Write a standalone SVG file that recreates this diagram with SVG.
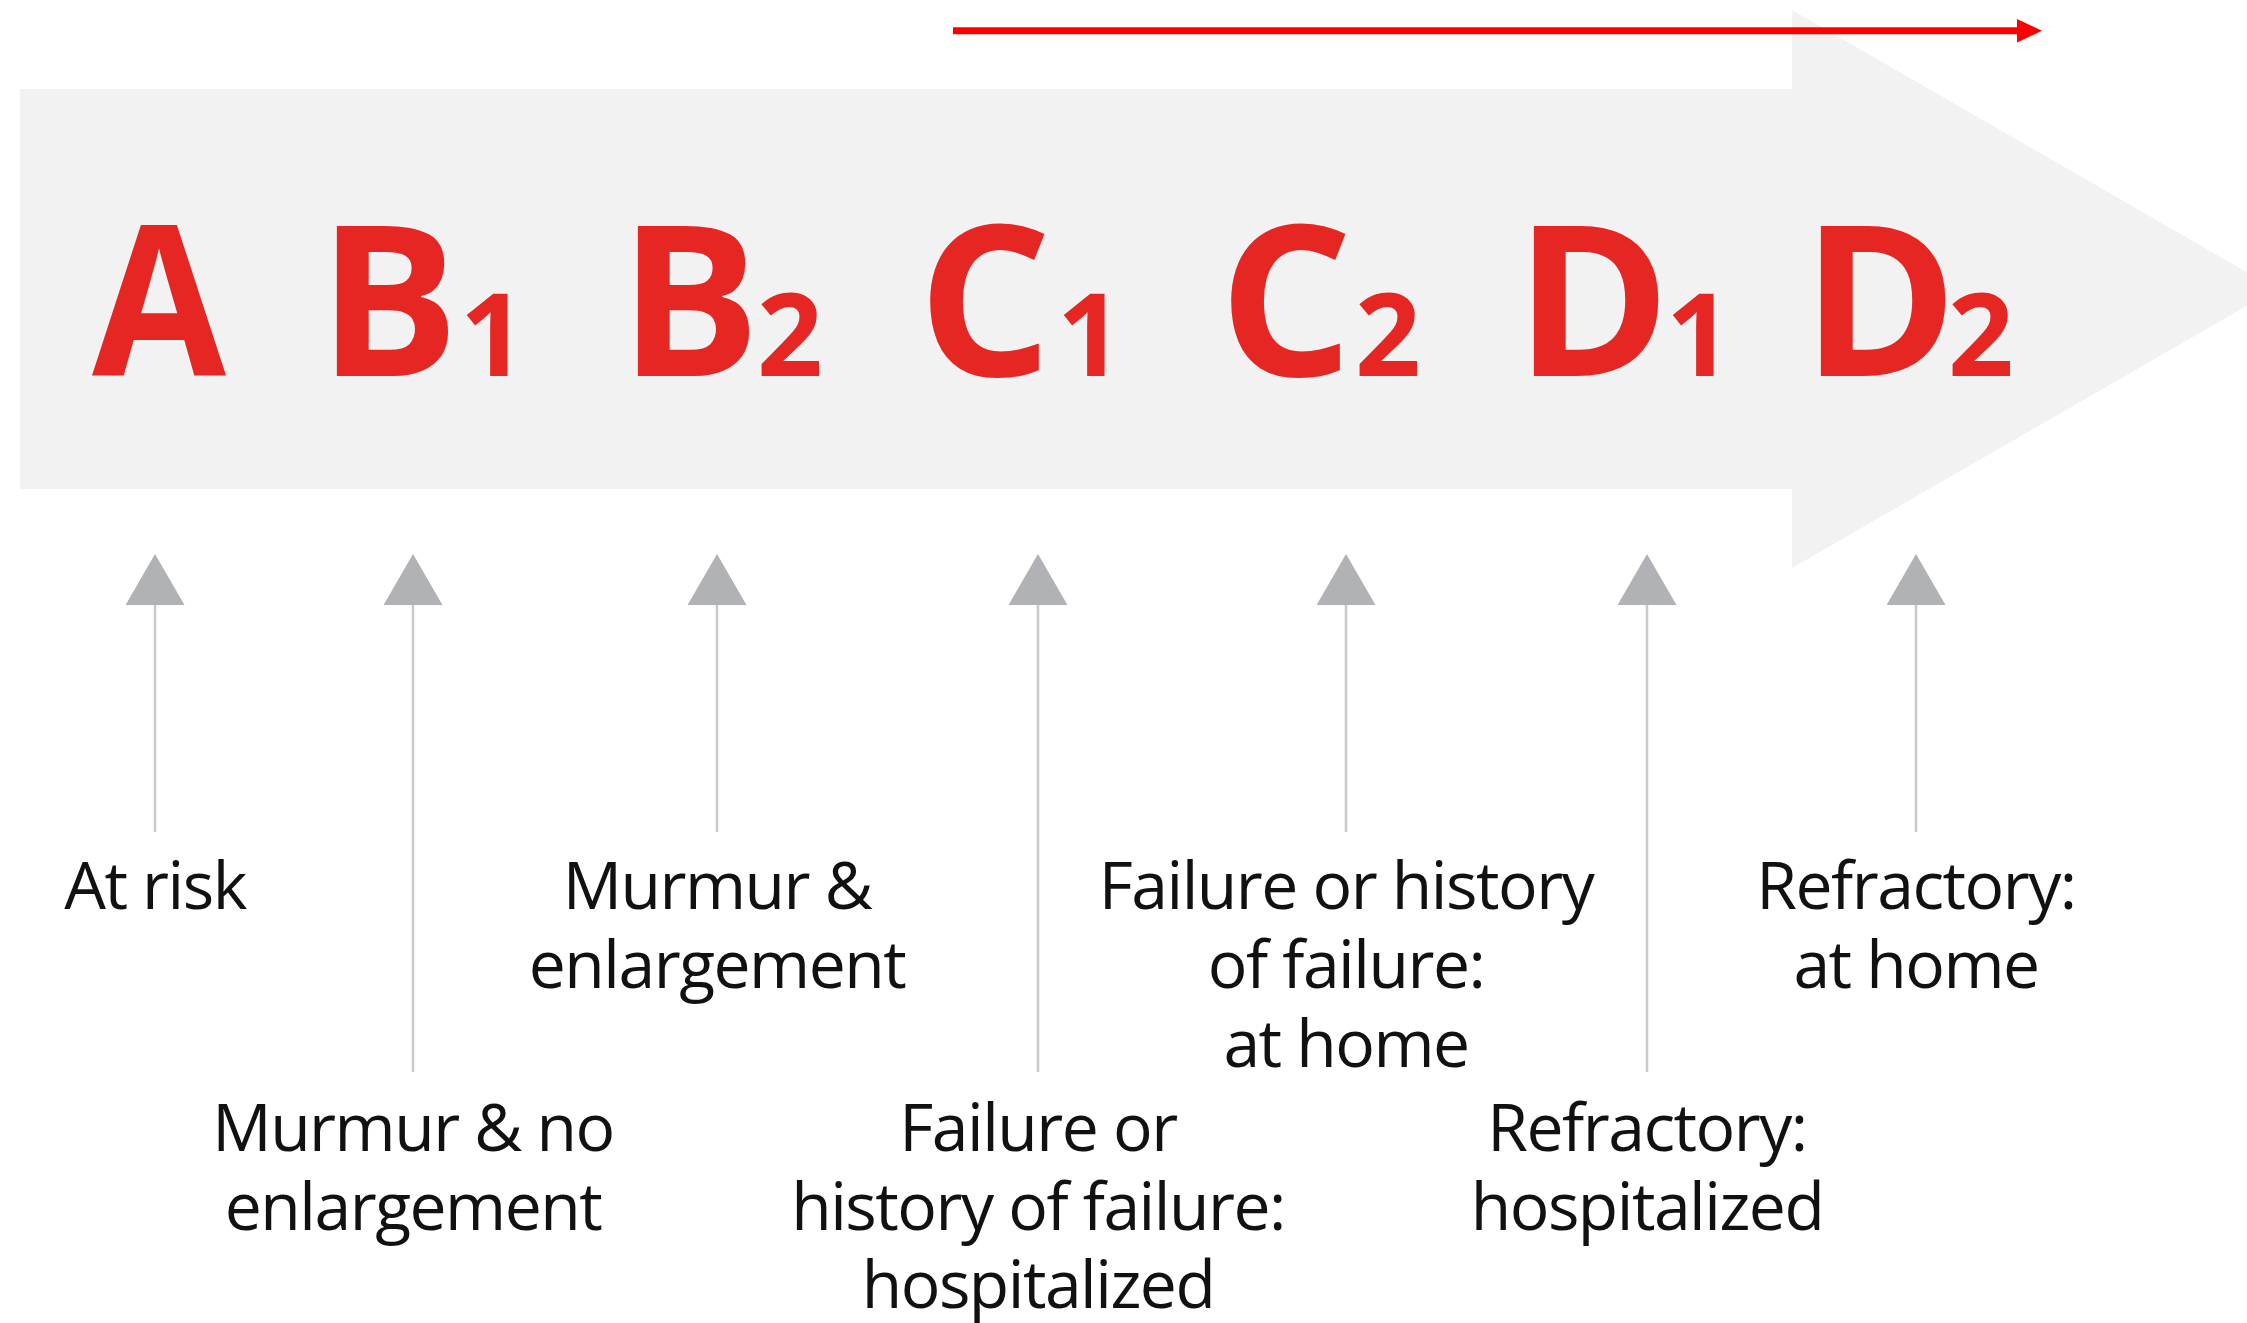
<svg xmlns="http://www.w3.org/2000/svg" width="2247" height="1323" viewBox="0 0 2247 1323">
  <style>
    .stage { font-family: "Open Sans", "Noto Sans", sans-serif; font-weight: 700; font-size: 210px; fill: #e52623; }
    .sub { font-size: 115px; font-weight: 700; }
    .label { font-family: "Open Sans", "Noto Sans", sans-serif; font-size: 66px; fill: #111111; text-anchor: middle; letter-spacing: -1.5px; }
    .pointer { stroke: #c9c9cb; stroke-width: 2.5; fill: none; marker-end: url(#grayHead); }
  </style>
  <defs>
    <marker id="grayHead" markerUnits="userSpaceOnUse" viewBox="0 0 51 59" refX="0" refY="29.5" markerWidth="51" markerHeight="59" orient="auto">
      <path d="M0,0 L51,29.5 L0,59 Z" fill="#b1b2b5"/>
    </marker>
    <marker id="redHead" markerUnits="userSpaceOnUse" viewBox="0 0 25 23.5" refX="0" refY="11.75" markerWidth="25" markerHeight="23.5" orient="auto">
      <path d="M0,0 L25,11.75 L0,23.5 Z" fill="#ff0000"/>
    </marker>
  </defs>

  <rect width="2247" height="1323" fill="#ffffff"/>

  <!-- large progression arrow -->
  <path id="progression" d="M20,89 L1792,89 L1792,10 L2276,289 L1792,568 L1792,489 L20,489 Z" fill="#f2f2f2"/>

  <!-- red direction line -->
  <line id="direction" x1="953" y1="30.8" x2="2017" y2="30.8" stroke="#ff0000" stroke-width="7" marker-end="url(#redHead)"/>

  <!-- pointers from labels up to stages -->
  <g id="connectors">
    <line class="pointer" x1="155" y1="832" x2="155" y2="605"/>
    <line class="pointer" x1="413" y1="1072" x2="413" y2="605"/>
    <line class="pointer" x1="717" y1="832" x2="717" y2="605"/>
    <line class="pointer" x1="1038" y1="1072" x2="1038" y2="605"/>
    <line class="pointer" x1="1346" y1="832" x2="1346" y2="605"/>
    <line class="pointer" x1="1647" y1="1072" x2="1647" y2="605"/>
    <line class="pointer" x1="1916" y1="832" x2="1916" y2="605"/>
  </g>

  <g id="stage-A">
    <text class="stage" x="92" y="376" textLength="134" lengthAdjust="spacingAndGlyphs">A</text>
    <text class="label" x="155" y="909">At risk</text>
  </g>
  <g id="stage-B1">
    <text class="stage" x="318" y="376">B<tspan class="sub" x="460">1</tspan></text>
    <text class="label" x="413" y="1151">Murmur &amp; no</text>
    <text class="label" x="413" y="1230">enlargement</text>
  </g>
  <g id="stage-B2">
    <text class="stage" x="619" y="376">B<tspan class="sub" x="757">2</tspan></text>
    <text class="label" x="717" y="909">Murmur &amp;</text>
    <text class="label" x="717" y="988">enlargement</text>
  </g>
  <g id="stage-C1">
    <text class="stage" x="918" y="376">C<tspan class="sub" x="1057">1</tspan></text>
    <text class="label" x="1038" y="1151">Failure or</text>
    <text class="label" x="1038" y="1230">history of failure:</text>
    <text class="label" x="1038" y="1308">hospitalized</text>
  </g>
  <g id="stage-C2">
    <text class="stage" x="1219" y="376">C<tspan class="sub" x="1355">2</tspan></text>
    <text class="label" x="1346" y="909">Failure or history</text>
    <text class="label" x="1346" y="988">of failure:</text>
    <text class="label" x="1346" y="1067">at home</text>
  </g>
  <g id="stage-D1">
    <text class="stage" x="1515" y="376">D<tspan class="sub" x="1666">1</tspan></text>
    <text class="label" x="1647" y="1151">Refractory:</text>
    <text class="label" x="1647" y="1230">hospitalized</text>
  </g>
  <g id="stage-D2">
    <text class="stage" x="1802" y="376">D<tspan class="sub" x="1948">2</tspan></text>
    <text class="label" x="1916" y="909">Refractory:</text>
    <text class="label" x="1916" y="988">at home</text>
  </g>
</svg>
